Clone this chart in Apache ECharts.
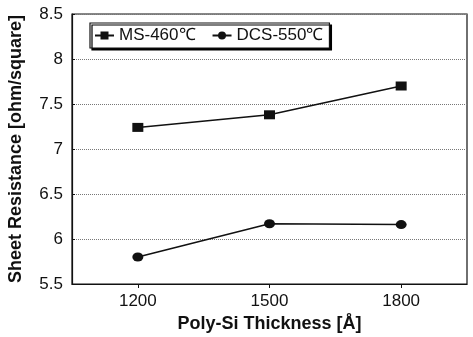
<!DOCTYPE html>
<html><head><meta charset="utf-8">
<script src="https://cdn.jsdelivr.net/npm/echarts@6/dist/echarts.min.js"></script>
<style>html,body{margin:0;padding:0;background:#fff}#c{width:473px;height:337px}</style>
</head><body><div id="c"></div>
<script>
const categories = ['1200', '1500', '1800'];
const msValues = [7.24, 7.38, 7.70];
const dcsValues = [5.80, 6.17, 6.16];
const seriesNames = ['MS-460℃', 'DCS-550℃'];

const chart = echarts.init(document.getElementById('c'));
const font = '"Liberation Sans", Arial, sans-serif';
chart.setOption({
  animation: false,
  backgroundColor: '#fff',
  grid: { left: 72, right: 6, top: 14, bottom: 53, containLabel: false, outerBoundsMode: 'none',
    show: true, borderColor: '#111', borderWidth: 1.2, backgroundColor: 'transparent' },
  legend: {
    left: 90, top: 23, itemGap: 16, itemWidth: 19, itemHeight: 10,
    padding: [4, 6, 4, 4],
    borderColor: '#111', borderWidth: 1.2, backgroundColor: '#fff',
    shadowColor: '#000', shadowOffsetX: 2, shadowOffsetY: 2, shadowBlur: 0,
    textStyle: { fontFamily: font, fontSize: 17, color: '#111' },
    data: seriesNames
  },
  xAxis: {
    type: 'category', data: categories, boundaryGap: true,
    name: 'Poly-Si Thickness [Å]', nameLocation: 'middle', nameGap: 30,
    nameTextStyle: { fontFamily: font, fontSize: 18, fontWeight: 'bold', color: '#111' },
    axisLine: { lineStyle: { color: '#111', width: 1.2 } },
    axisTick: { show: true, alignWithLabel: true, length: 4, lineStyle: { color: '#111' } },
    axisLabel: { fontFamily: font, fontSize: 17, color: '#111', margin: 9 },
    splitLine: { show: false }
  },
  yAxis: {
    type: 'value', min: 5.5, max: 8.5, interval: 0.5,
    name: 'Sheet Resistance [ohm/square]', nameLocation: 'middle', nameGap: 47,
    nameTextStyle: { fontFamily: font, fontSize: 18, fontWeight: 'bold', color: '#111' },
    axisLine: { show: true, lineStyle: { color: '#111', width: 1.2 } },
    axisTick: { show: true, inside: true, length: 3, lineStyle: { color: '#111' } },
    axisLabel: { fontFamily: font, fontSize: 17, color: '#111', margin: 9, formatter: v => String(v) },
    splitLine: { show: true, lineStyle: { color: '#777', type: 'dotted', width: 1 } }
  },
  series: [
    { name: seriesNames[0], type: 'line', data: msValues, symbol: 'rect', symbolSize: [11, 9],
      itemStyle: { color: '#111' }, lineStyle: { color: '#111', width: 1.5 } },
    { name: seriesNames[1], type: 'line', data: dcsValues, symbol: 'circle', symbolSize: [11, 9],
      itemStyle: { color: '#111' }, lineStyle: { color: '#111', width: 1.5 } }
  ]
});
</script></body></html>
